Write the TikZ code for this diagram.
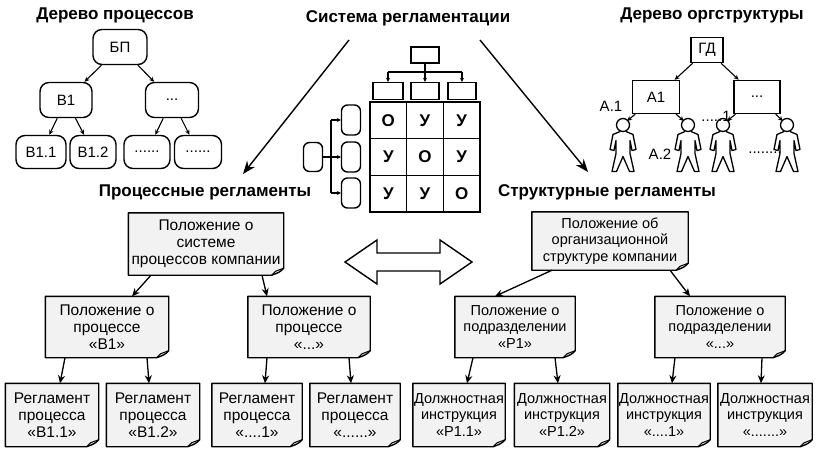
\documentclass[tikz,border=0pt]{standalone}
\usepackage{fontspec}
\setmainfont{Liberation Sans}
\usetikzlibrary{arrows.meta,calc}
\begin{document}
\begin{tikzpicture}[x=1pt,y=-1pt,
  arr/.style={-{Stealth[length=8pt,width=7pt]},line width=1.3pt},
  sarr/.style={-{Stealth[length=5pt,width=4.5pt]},line width=1.1pt},
  bigarr/.style={-{Stealth[length=13pt,width=10pt]},line width=1.4pt},
  rbox/.style={draw,line width=1.4pt,rounded corners=9pt,font=\fontsize{15}{17}\selectfont},
  sbox/.style={draw,line width=1.4pt,font=\fontsize{15}{17}\selectfont},
  ttl/.style={font=\bfseries\fontsize{17}{20}\selectfont},
  lbl/.style={font=\fontsize{15}{17}\selectfont},
  doc/.style={fill=gray!10,align=center,inner sep=1pt,font=\fontsize{14.5}{16.5}\selectfont},
  bdoc/.style={doc,font=\fontsize{15.5}{17}\selectfont},
  cell/.style={draw,line width=1.3pt,minimum width=36.7pt,minimum height=36.7pt,font=\bfseries\fontsize{17}{19}\selectfont}]
\useasboundingbox (0,0) rectangle (820,448);
% ---------- process tree
\node[ttl] (t1) at (115,15) {Дерево процессов};
\node[rbox,minimum width=54pt,minimum height=35pt] (bp) at (120,47) {БП};
\node[rbox,minimum width=52pt,minimum height=35pt] (b1) at (66,100) {В1};
\node[rbox,minimum width=53pt,minimum height=35pt] (bd) at (172,100) {...};
\node[rbox,minimum width=50pt,minimum height=33pt,inner sep=1pt] (b11) at (41,152) {В1.1};
\node[rbox,minimum width=46pt,minimum height=33pt,inner sep=1pt] (b12) at (93,152) {В1.2};
\node[rbox,minimum width=46pt,minimum height=33pt] (bd1) at (147,152) {......};
\node[rbox,minimum width=47pt,minimum height=33pt] (bd2) at (198,152) {......};
\draw[sarr] (bp) -- (b1); \draw[sarr] (bp) -- (bd);
\draw[sarr] (b1) -- (b11); \draw[sarr] (b1) -- (b12);
\draw[sarr] (bd) -- (bd1); \draw[sarr] (bd) -- (bd2);
% ---------- system
\node[ttl] (t2) at (408,18) {Система регламентации};
\node[sbox,minimum width=28pt,minimum height=16pt] (top) at (425,55) {};
\node[sbox,minimum width=30pt,minimum height=17pt] (c1) at (388,91) {};
\node[sbox,minimum width=28pt,minimum height=17pt] (c2) at (425,91) {};
\node[sbox,minimum width=28pt,minimum height=17pt] (c3) at (462,91) {};
\coordinate (br) at (425,72);
\draw[line width=1.1pt] (top.south) -- (br);
\draw[line width=1.1pt] (c1.north|-br) -- (c3.north|-br);
\draw[sarr,-{Stealth[length=4pt,width=4pt]}] (c1.north|-br) -- (c1.north);
\draw[sarr,-{Stealth[length=4pt,width=4pt]}] (br) -- (c2.north);
\draw[sarr,-{Stealth[length=4pt,width=4pt]}] (c3.north|-br) -- (c3.north);
\foreach \r/\a/\b/\c in {0/О/У/У,1/У/О/У,2/У/У/О}{
  \node[cell] (g\r a) at (388.3,120.3+36.7*\r) {\a};
  \node[cell] (g\r b) at (425,120.3+36.7*\r) {\b};
  \node[cell] (g\r c) at (461.7,120.3+36.7*\r) {\c};
}
\node[sbox,rounded corners=6pt,minimum width=19pt,minimum height=29pt] (lm) at (313,157) {};
\node[sbox,rounded corners=6pt,minimum width=19pt,minimum height=30pt] (l1) at (351,120) {};
\node[sbox,rounded corners=6pt,minimum width=19pt,minimum height=30pt] (l2) at (351,157) {};
\node[sbox,rounded corners=6pt,minimum width=19pt,minimum height=30pt] (l3) at (351,193) {};
\coordinate (vb) at (331,157);
\draw[line width=1.1pt] (lm.east) -- (vb);
\draw[line width=1.1pt] (vb|-l1.west) -- (vb|-l3.west);
\draw[sarr,-{Stealth[length=4pt,width=4pt]}] (vb|-l1.west) -- (l1.west);
\draw[sarr,-{Stealth[length=4pt,width=4pt]}] (vb) -- (l2.west);
\draw[sarr,-{Stealth[length=4pt,width=4pt]}] (vb|-l3.west) -- (l3.west);
% ---------- org tree
\node[ttl] (t3) at (712,15) {Дерево оргструктуры};
\node[sbox,minimum width=32pt,minimum height=25pt] (gd) at (707,50) {ГД};
\node[sbox,minimum width=47pt,minimum height=33pt] (a1) at (656,97) {А1};
\node[sbox,minimum width=46pt,minimum height=33pt] (ad) at (757,97) {...};
\draw[sarr] (gd) -- (a1); \draw[sarr] (gd) -- (ad);
\foreach \n/\x in {p1/623,p2/688,p3/723,p4/787}{
  \coordinate (\n) at (\x,125);
  \draw[line width=1.3pt,fill=white] (\x,125) circle (6.5);
  \draw[line width=1.3pt,line join=round] (\x,125) ++(-3,6.5) -- ++(-7,3) -- ++(-3,15) -- ++(4,1) -- ++(2,-10) -- ++(0,13) -- ++(-4,18) -- ++(4.5,0) -- ++(6.5,-15) -- ++(6.5,15) -- ++(4.5,0) -- ++(-4,-18) -- ++(0,-13) -- ++(2,10) -- ++(4,-1) -- ++(-3,-15) -- ++(-7,-3);
}
\draw[sarr] (a1) -- ($(p1)+(4,-4)$); \draw[sarr] (a1) -- ($(p2)+(-4,-4)$);
\draw[sarr] (ad) -- ($(p3)+(4,-4)$); \draw[sarr] (ad) -- ($(p4)+(-4,-4)$);
\node[lbl] (la1) at (611,106) {А.1};
\node[lbl] (la2) at (660,154) {А.2};
\node[lbl] (ld1) at (716,116) {.....1};
\node[lbl] (ld2) at (765,153) {........};
% ---------- big arrows
\coordinate (s1) at (349,40); \coordinate (e1) at (243,174);
\coordinate (s2) at (480,40); \coordinate (e2) at (588,172);
\draw[bigarr] (s1) -- (e1);
\draw[bigarr] (s2) -- (e2);
\node[ttl] (t4) at (205,192) {Процессные регламенты};
\node[ttl] (t5) at (607,192) {Структурные регламенты};
\draw[line width=1.4pt,line join=miter] (345,262) -- (377,240) -- (377,253) -- (440,253) -- (440,240) -- (472,262) -- (440,284) -- (440,271) -- (377,271) -- (377,284) -- cycle;
% ---------- documents
\node[bdoc,minimum width=155pt,minimum height=62pt] (p0) at (206,244) {Положение о\\системе\\процессов компании};
\node[bdoc,minimum width=123pt,minimum height=61pt] (pa) at (107,327) {Положение о\\процессе\\«В1»};
\node[bdoc,minimum width=122pt,minimum height=61pt] (pb) at (309,327) {Положение о\\процессе\\«...»};
\node[bdoc,minimum width=93pt,minimum height=63pt] (r1) at (52,415) {Регламент\\процесса\\«В1.1»};
\node[bdoc,minimum width=93pt,minimum height=63pt] (r2) at (153,415) {Регламент\\процесса\\«В1.2»};
\node[bdoc,minimum width=90pt,minimum height=63pt] (r3) at (257,415) {Регламент\\процесса\\«....1»};
\node[bdoc,minimum width=90pt,minimum height=63pt] (r4) at (355,415) {Регламент\\процесса\\«......»};
\node[doc,minimum width=156pt,minimum height=58pt] (s0) at (610,241) {Положение об\\организационной\\структуре компании};
\node[doc,minimum width=120pt,minimum height=61pt] (sa) at (515,327) {Положение о\\подразделении\\«Р1»};
\node[doc,minimum width=130pt,minimum height=61pt] (sb) at (720,327) {Положение о\\подразделении\\«...»};
\node[doc,minimum width=92pt,minimum height=63pt] (q1) at (459,415) {Должностная\\инструкция\\«Р1.1»};
\node[doc,minimum width=95pt,minimum height=63pt] (q2) at (562,415) {Должностная\\инструкция\\«Р1.2»};
\node[doc,minimum width=92pt,minimum height=63pt] (q3) at (664,415) {Должностная\\инструкция\\«....1»};
\node[doc,minimum width=94pt,minimum height=63pt] (q4) at (765,415) {Должностная\\инструкция\\«.......»};
\foreach \n in {p0,pa,pb,r1,r2,r3,r4,s0,sa,sb,q1,q2,q3,q4}{
  \fill[white] ($(\n.south east)+(0.8,-7)$) -- ($(\n.south east)+(0.8,0.8)$) -- ($(\n.south east)+(-12,0.8)$) -- cycle;
  \draw[line width=1.4pt,line join=round] (\n.north west) -- (\n.north east) -- ($(\n.south east)+(0,-7)$) .. controls ($(\n.south east)+(-4,-3)$) .. ($(\n.south east)+(-12,0)$) -- (\n.south west) -- cycle;
  \draw[line width=1pt] ($(\n.south east)+(0,-7)$) -- ($(\n.south east)+(-8,-4)$) -- ($(\n.south east)+(-12,0)$);
}
\draw[arr] ($(p0.south)+(-55,0)$) -- ($(pa.north)+(25,0)$);
\draw[arr] ($(p0.south)+(56,0)$) -- ($(pb.north)+(-42,0)$);
\draw[arr] ($(pa.south)+(-42,0)$) -- ($(r1.north)+(8,0)$);
\draw[arr] ($(pa.south)+(40,0)$) -- ($(r2.north)+(-4,0)$);
\draw[arr] ($(pb.south)+(-42,0)$) -- ($(r3.north)+(8,0)$);
\draw[arr] ($(pb.south)+(40,0)$) -- ($(r4.north)+(-4,0)$);
\draw[arr] ($(s0.south)+(-58,0)$) -- ($(sa.north)+(-20,0)$);
\draw[arr] ($(s0.south)+(60,0)$) -- ($(sb.north)+(-30,0)$);
\draw[arr] ($(sa.south)+(-42,0)$) -- ($(q1.north)+(8,0)$);
\draw[arr] ($(sa.south)+(40,0)$) -- ($(q2.north)+(-4,0)$);
\draw[arr] ($(sb.south)+(-45,0)$) -- ($(q3.north)+(8,0)$);
\draw[arr] ($(sb.south)+(42,0)$) -- ($(q4.north)+(-4,0)$);
\end{tikzpicture}
\end{document}
